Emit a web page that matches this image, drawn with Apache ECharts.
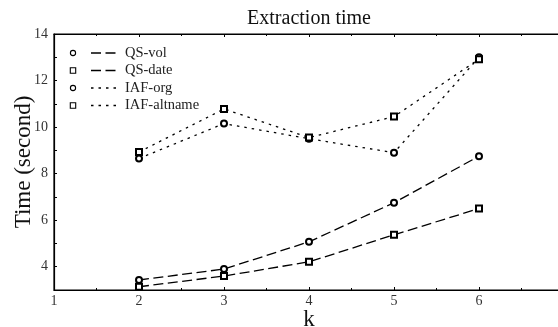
<!DOCTYPE html>
<html><head><meta charset="utf-8">
<script src="https://cdn.jsdelivr.net/npm/echarts@6/dist/echarts.min.js"></script>
<style>html,body{margin:0;padding:0;background:#fff}#c{width:558px;height:327px}</style>
</head><body><div id="c"></div>
<script>
const kValues = [2, 3, 4, 5, 6];
const seriesNames = ['QS-vol', 'QS-date', 'IAF-org', 'IAF-altname'];
const qsVol = [3.43, 3.9, 5.07, 6.75, 8.75];
const qsDate = [3.14, 3.6, 4.21, 5.37, 6.5];
const iafOrg = [8.65, 10.15, 9.5, 8.9, 13.0];
const iafAltname = [8.93, 10.78, 9.55, 10.45, 12.92];
const titleText = 'Extraction time';
const xName = 'k';
const yName = 'Time (second)';

const FONT = '"Liberation Serif", "DejaVu Serif", serif';
const seriesValues = [qsVol, qsDate, iafOrg, iafAltname];
const symbols = ['emptyCircle', 'emptyRect', 'emptyCircle', 'emptyRect'];
const dashes = [[10, 4.5], [10, 4.5], [2.5, 5], [2.5, 5]];

const chart = echarts.init(document.getElementById('c'), null, {renderer: 'canvas'});

const series = seriesNames.map((name, i) => ({
  name: name,
  type: 'line',
  xAxisIndex: 0,
  data: kValues.map((k, j) => [k, seriesValues[i][j]]),
  symbol: symbols[i],
  symbolSize: 6,
  showAllSymbol: true,
  lineStyle: {color: '#000', width: 1.3, type: dashes[i]},
  itemStyle: {color: '#000', borderColor: '#000', borderWidth: 1},
  z: 3
}));

const graphics = [];
seriesNames.forEach((name, i) => {
  const y = 53 + i * 17.5;
  if (symbols[i] === 'emptyCircle') {
    graphics.push({type: 'circle', shape: {cx: 73, cy: y, r: 2.6}, style: {fill: '#fff', stroke: '#000', lineWidth: 1.1}});
  } else {
    graphics.push({type: 'rect', shape: {x: 70.3, y: y - 2.7, width: 5.4, height: 5.4}, style: {fill: '#fff', stroke: '#000', lineWidth: 1.1}});
  }
  graphics.push({type: 'line', shape: {x1: 91, y1: y, x2: 117, y2: y}, style: {stroke: '#000', lineWidth: 1.3, lineDash: dashes[i]}});
  graphics.push({type: 'text', x: 125, y: y, style: {text: name, fill: '#222', font: '14.5px ' + FONT, textVerticalAlign: 'middle'}});
});

chart.setOption({
  animation: false,
  backgroundColor: '#fff',
  title: {
    text: titleText, left: 304, top: 4, textAlign: 'center',
    textStyle: {fontFamily: FONT, fontSize: 20, fontWeight: 'normal', color: '#111'}
  },
  grid: {left: 54, top: 34, right: -6, bottom: 37, show: true, borderColor: '#000', borderWidth: 1.2,
    backgroundColor: 'transparent', outerBoundsMode: 'none', containLabel: false},
  xAxis: [{
    type: 'value', min: 1, max: 7, interval: 1, position: 'bottom',
    name: xName, nameLocation: 'middle', nameGap: 18, nameMoveOverlap: false,
    nameTextStyle: {fontFamily: FONT, fontSize: 23, color: '#111'},
    axisLine: {show: true, onZero: false, lineStyle: {color: '#000', width: 1.2}},
    axisTick: {show: true, inside: true, length: 3, lineStyle: {color: '#000'}},
    minorTick: {show: true, splitNumber: 2, length: 2, lineStyle: {color: '#000'}},
    axisLabel: {fontFamily: FONT, fontSize: 14, color: '#333', margin: 4},
    splitLine: {show: false}
  }, {
    type: 'value', min: 1, max: 7, interval: 1, position: 'top',
    axisLine: {show: true, onZero: false, lineStyle: {color: '#000', width: 1.2}},
    axisTick: {show: true, inside: true, length: 3, lineStyle: {color: '#000'}},
    minorTick: {show: true, splitNumber: 2, length: 2, lineStyle: {color: '#000'}},
    axisLabel: {show: false},
    splitLine: {show: false}
  }],
  yAxis: {
    type: 'value', min: 3, max: 14, interval: 1,
    name: yName, nameLocation: 'middle', nameGap: 19, nameMoveOverlap: false,
    nameTextStyle: {fontFamily: FONT, fontSize: 23, color: '#111'},
    axisLine: {show: true, onZero: false, lineStyle: {color: '#000', width: 1.2}},
    axisTick: {show: true, inside: true, length: 3, lineStyle: {color: '#000'}},
    axisLabel: {fontFamily: FONT, fontSize: 14, color: '#333', margin: 6,
      formatter: v => (v % 2 === 0 ? String(v) : '')},
    splitLine: {show: false}
  },
  series: series,
  graphic: graphics
});
</script>
</body></html>
